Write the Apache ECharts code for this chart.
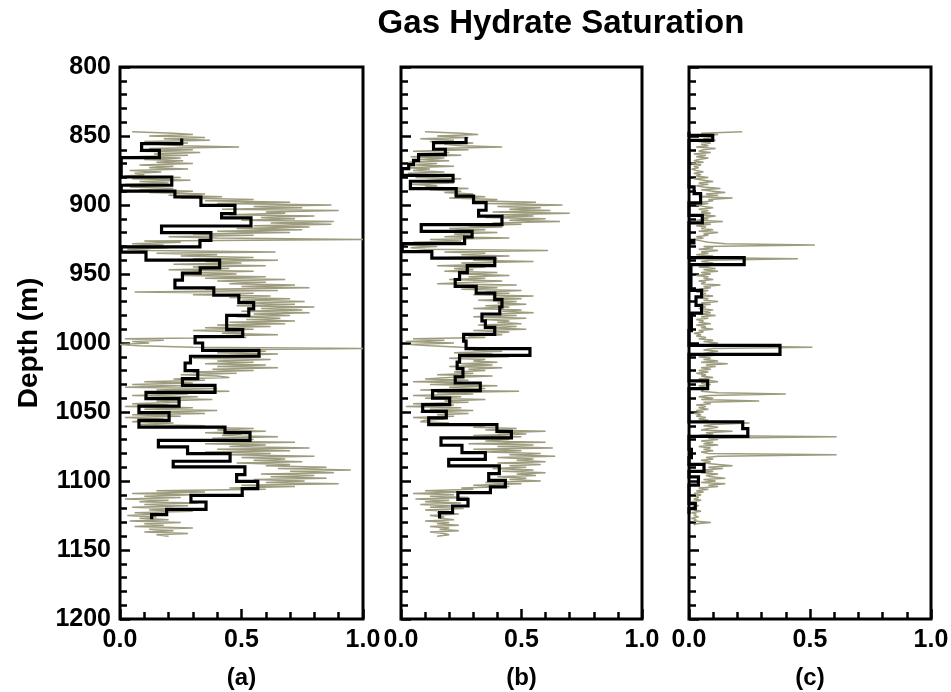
<!DOCTYPE html>
<html>
<head>
<meta charset="utf-8">
<script src="https://cdn.jsdelivr.net/npm/echarts@6/dist/echarts.min.js"></script>
<style>
  html, body { margin: 0; padding: 0; background: #fff; }
  #chart { width: 951px; height: 692px; }
</style>
</head>
<body>
<div id="chart"></div>
<script>
// Log sampling: one reading per metre from the first depth below
const logStartDepth = 847;

// (a) hydrate saturation log
const logA = [
  0.05, 0.22, 0.30, 0.12, 0.35, 0.18, 0.37, 0.10, 0.28, 0.15,
  0.25, 0.49, 0.12, 0.30, 0.08, 0.33, 0.14, 0.28, 0.05, 0.25,
  0.10, 0.26, 0.15, 0.30, 0.08, 0.22, 0.12, 0.28, 0.04, 0.17,
  0.06, 0.10, 0.02, 0.25, 0.05, 0.29, 0.08, 0.20, 0.02, 0.12,
  0.04, 0.22, 0.08, 0.30, 0.12, 0.35, 0.20, 0.42, 0.25, 0.55,
  0.35, 0.70, 0.40, 0.87, 0.55, 0.75, 0.42, 0.90, 0.60, 0.68,
  0.45, 0.80, 0.58, 0.72, 0.50, 0.88, 0.62, 0.87, 0.55, 0.78,
  0.48, 0.75, 0.40, 0.70, 0.30, 0.55, 0.20, 0.40, 1.00, 0.10,
  0.25, 0.05, 0.18, 0.02, 0.20, 0.03, 0.12, 0.64, 0.15, 0.40,
  0.25, 0.55, 0.30, 0.65, 0.35, 0.50, 0.22, 0.60, 0.30, 0.45,
  0.20, 0.55, 0.30, 0.48, 0.25, 0.60, 0.35, 0.68, 0.40, 0.60,
  0.45, 0.72, 0.50, 0.78, 0.35, 0.65, 0.06, 0.55, 0.30, 0.62,
  0.45, 0.70, 0.50, 0.76, 0.55, 0.72, 0.48, 0.80, 0.58, 0.75,
  0.50, 0.78, 0.55, 0.70, 0.48, 0.66, 0.52, 0.72, 0.45, 0.68,
  0.40, 0.62, 0.35, 0.55, 0.30, 0.50, 0.42, 0.65, 0.38, 0.52,
  0.02, 0.18, 0.05, 0.12, 0.00, 0.08, 0.30, 1.00, 0.35, 0.60,
  0.40, 0.65, 0.45, 0.58, 0.30, 0.62, 0.40, 0.55, 0.35, 0.60,
  0.40, 0.65, 0.38, 0.55, 0.30, 0.48, 0.25, 0.40, 0.45, 0.22,
  0.35, 0.10, 0.30, 0.05, 0.25, 0.02, 0.40, 0.15, 0.45, 0.20,
  0.28, 0.05, 0.32, 0.10, 0.38, 0.15, 0.25, 0.05, 0.20, 0.02,
  0.30, 0.10, 0.40, 0.15, 0.35, 0.05, 0.25, 0.02, 0.18, 0.10,
  0.05, 0.22, 0.08, 0.35, 0.30, 0.55, 0.40, 0.60, 0.35, 0.50,
  0.42, 0.65, 0.38, 0.55, 0.30, 0.72, 0.35, 0.60, 0.45, 0.78,
  0.40, 0.70, 0.35, 0.62, 0.45, 0.80, 0.50, 0.68, 0.55, 0.75,
  0.48, 0.70, 0.60, 0.85, 0.65, 0.95, 0.70, 0.88, 0.58, 0.80,
  0.62, 0.85, 0.55, 0.76, 0.60, 0.90, 0.50, 0.72, 0.45, 0.60,
  0.15, 0.35, 0.05, 0.30, 0.10, 0.25, 0.02, 0.20, 0.08, 0.32,
  0.10, 0.28, 0.05, 0.22, 0.12, 0.30, 0.06, 0.18, 0.03, 0.15,
  0.08, 0.20, 0.04, 0.25, 0.10, 0.18, 0.06, 0.30, 0.12, 0.22,
  0.10, 0.28, 0.15, 0.20
];

// (b) hydrate saturation log
const logB = [
  0.10, 0.25, 0.32, 0.15, 0.28, 0.08, 0.22, 0.12, 0.30, 0.18,
  0.25, 0.42, 0.15, 0.28, 0.05, 0.20, 0.10, 0.25, 0.04, 0.18,
  0.08, 0.20, 0.03, 0.15, 0.06, 0.22, 0.02, 0.12, 0.05, 0.18,
  0.03, 0.10, 0.20, 0.06, 0.25, 0.12, 0.08, 0.22, 0.04, 0.15,
  0.10, 0.28, 0.12, 0.25, 0.18, 0.30, 0.22, 0.35, 0.20, 0.40,
  0.30, 0.56, 0.35, 0.67, 0.40, 0.58, 0.45, 0.62, 0.38, 0.70,
  0.42, 0.55, 0.35, 0.60, 0.45, 0.66, 0.38, 0.50, 0.28, 0.42,
  0.20, 0.35, 0.15, 0.40, 0.22, 0.30, 0.18, 0.45, 0.12, 0.25,
  0.05, 0.20, 0.02, 0.15, 0.04, 0.10, 0.61, 0.18, 0.35, 0.25,
  0.45, 0.20, 0.40, 0.30, 0.55, 0.25, 0.38, 0.15, 0.35, 0.22,
  0.30, 0.18, 0.40, 0.25, 0.45, 0.28, 0.35, 0.20, 0.42, 0.30,
  0.15, 0.48, 0.30, 0.40, 0.25, 0.50, 0.35, 0.45, 0.30, 0.55,
  0.38, 0.50, 0.32, 0.48, 0.40, 0.52, 0.35, 0.45, 0.30, 0.50,
  0.42, 0.55, 0.38, 0.48, 0.30, 0.52, 0.35, 0.45, 0.40, 0.50,
  0.32, 0.48, 0.36, 0.52, 0.30, 0.45, 0.38, 0.42, 0.28, 0.35,
  0.05, 0.18, 0.02, 0.22, 0.04, 0.12, 0.25, 0.45, 0.30, 0.42,
  0.22, 0.38, 0.28, 0.45, 0.20, 0.35, 0.30, 0.40, 0.25, 0.38,
  0.20, 0.42, 0.28, 0.35, 0.22, 0.30, 0.15, 0.38, 0.20, 0.10,
  0.28, 0.05, 0.32, 0.12, 0.40, 0.20, 0.35, 0.08, 0.49, 0.15,
  0.30, 0.05, 0.25, 0.10, 0.35, 0.18, 0.28, 0.05, 0.22, 0.02,
  0.25, 0.12, 0.30, 0.08, 0.28, 0.15, 0.22, 0.05, 0.18, 0.10,
  0.08, 0.20, 0.15, 0.35, 0.30, 0.48, 0.35, 0.60, 0.40, 0.52,
  0.30, 0.50, 0.25, 0.45, 0.35, 0.60, 0.28, 0.55, 0.40, 0.63,
  0.30, 0.50, 0.35, 0.58, 0.45, 0.64, 0.40, 0.55, 0.48, 0.60,
  0.40, 0.58, 0.45, 0.52, 0.38, 0.55, 0.42, 0.60, 0.48, 0.56,
  0.40, 0.52, 0.45, 0.58, 0.35, 0.50, 0.30, 0.45, 0.25, 0.30,
  0.10, 0.25, 0.05, 0.22, 0.12, 0.28, 0.06, 0.20, 0.10, 0.25,
  0.08, 0.22, 0.12, 0.26, 0.10, 0.20, 0.15, 0.24, 0.12, 0.18,
  0.16, 0.22, 0.10, 0.20, 0.15, 0.24, 0.12, 0.20, 0.16, 0.24,
  0.12, 0.18, 0.20, 0.15
];

// (c) hydrate saturation log
const logC = [
  0.22, 0.05, 0.12, 0.03, 0.10, 0.06, 0.11, 0.04, 0.09, 0.05,
  0.08, 0.03, 0.11, 0.06, 0.04, 0.09, 0.02, 0.07, 0.03, 0.08,
  0.04, 0.02, 0.06, 0.01, 0.05, 0.02, 0.04, 0.01, 0.03, 0.06,
  0.02, 0.05, 0.03, 0.08, 0.02, 0.06, 0.10, 0.04, 0.08, 0.03,
  0.06, 0.13, 0.05, 0.10, 0.15, 0.07, 0.12, 0.04, 0.18, 0.08,
  0.10, 0.05, 0.08, 0.03, 0.06, 0.10, 0.04, 0.08, 0.05, 0.09,
  0.04, 0.11, 0.06, 0.08, 0.03, 0.14, 0.05, 0.09, 0.03, 0.07,
  0.05, 0.10, 0.04, 0.12, 0.06, 0.08, 0.03, 0.06, 0.02, 0.05,
  0.08, 0.15, 0.52, 0.06, 0.10, 0.04, 0.12, 0.05, 0.08, 0.03,
  0.10, 0.04, 0.45, 0.08, 0.05, 0.10, 0.06, 0.09, 0.04, 0.11,
  0.06, 0.12, 0.05, 0.09, 0.03, 0.08, 0.06, 0.10, 0.04, 0.07,
  0.05, 0.13, 0.06, 0.09, 0.04, 0.08, 0.03, 0.07, 0.05, 0.10,
  0.04, 0.08, 0.06, 0.12, 0.05, 0.09, 0.03, 0.07, 0.04, 0.10,
  0.06, 0.09, 0.04, 0.11, 0.05, 0.08, 0.03, 0.06, 0.04, 0.09,
  0.03, 0.07, 0.05, 0.10, 0.04, 0.06, 0.02, 0.05, 0.03, 0.07,
  0.04, 0.10, 0.06, 0.12, 0.08, 0.15, 0.51, 0.10, 0.06, 0.12,
  0.08, 0.05, 0.10, 0.04, 0.09, 0.06, 0.12, 0.05, 0.16, 0.07,
  0.11, 0.05, 0.09, 0.04, 0.08, 0.03, 0.07, 0.05, 0.10, 0.04,
  0.08, 0.12, 0.05, 0.09, 0.04, 0.07, 0.03, 0.06, 0.05, 0.12,
  0.40, 0.08, 0.04, 0.10, 0.05, 0.29, 0.06, 0.09, 0.03, 0.07,
  0.04, 0.08, 0.03, 0.06, 0.02, 0.05, 0.03, 0.07, 0.04, 0.08,
  0.05, 0.25, 0.10, 0.06, 0.12, 0.08, 0.05, 0.18, 0.07, 0.10,
  0.04, 0.61, 0.08, 0.12, 0.05, 0.10, 0.06, 0.12, 0.04, 0.09,
  0.06, 0.10, 0.05, 0.08, 0.61, 0.12, 0.07, 0.10, 0.05, 0.09,
  0.06, 0.12, 0.18, 0.08, 0.14, 0.06, 0.10, 0.05, 0.12, 0.07,
  0.09, 0.15, 0.06, 0.11, 0.05, 0.15, 0.08, 0.12, 0.04, 0.08,
  0.03, 0.06, 0.02, 0.05, 0.03, 0.04, 0.02, 0.05, 0.01, 0.03,
  0.02, 0.04, 0.01, 0.03, 0.02, 0.05, 0.01, 0.03, 0.02, 0.04,
  0.01, 0.03, 0.02, 0.09, 0.03, 0.02
];

// Interval averages: depth boundaries (m) and the saturation within each interval
const blockDepthsA = [851.9, 855.5, 860.4, 865.7, 879.7, 885.7, 889.9, 894.2, 900.2, 906.2,
  909.4, 915.2, 920, 925.6, 930.4, 934.1, 940, 945.6, 949.3, 954.5, 960, 965.4, 970.7,
  975.3, 980, 990.3, 995.3, 1000, 1005.3, 1009.6, 1014.5, 1020, 1025.8, 1030.7, 1035.8,
  1040.3, 1045.7, 1050.4, 1056, 1060.9, 1064.9, 1070.5, 1075.3, 1080.1, 1085.7, 1089.8,
  1095.4, 1100.2, 1105.5, 1110.4, 1115.2, 1120.5, 1124.3, 1127.7];
const blockValuesA = [0.254, 0.089, 0.162, 0.005, 0.213, 0.005, 0.226, 0.333, 0.473, 0.418,
  0.539, 0.171, 0.374, 0.329, 0.005, 0.107, 0.41, 0.33, 0.257, 0.226, 0.386, 0.489, 0.55,
  0.53, 0.439, 0.505, 0.309, 0.34, 0.572, 0.29, 0.268, 0.32, 0.257, 0.391, 0.107, 0.243,
  0.078, 0.202, 0.078, 0.432, 0.535, 0.158, 0.278, 0.453, 0.219, 0.514, 0.48, 0.567,
  0.503, 0.292, 0.354, 0.192, 0.13];

const blockDepthsB = [850.7, 854.8, 859.6, 863.5, 867.6, 870.8, 873.6, 878.5, 882.8, 888.1,
  893.5, 898.3, 903.8, 908, 914.2, 919.1, 923.2, 928, 933.8, 938.5, 944, 949, 954, 958.9,
  963.8, 968.6, 973.9, 979, 984, 988.7, 993.7, 998.6, 1004.1, 1008.9, 1013.8, 1018.6,
  1024.5, 1029, 1034.5, 1039.9, 1044.6, 1049.5, 1054.3, 1059.1, 1064, 1068.8, 1074.1,
  1079.4, 1084.3, 1089.1, 1094.6, 1099.5, 1104.3, 1108.4, 1113.3, 1118.1, 1122.9, 1127.2];
const blockValuesB = [0.27, 0.135, 0.184, 0.073, 0.052, 0.032, 0.005, 0.216, 0.039, 0.229,
  0.301, 0.353, 0.322, 0.419, 0.084, 0.295, 0.264, 0.005, 0.128, 0.389, 0.275, 0.243,
  0.225, 0.312, 0.389, 0.419, 0.41, 0.336, 0.35, 0.389, 0.26, 0.27, 0.535, 0.243, 0.233,
  0.257, 0.225, 0.329, 0.131, 0.202, 0.09, 0.188, 0.115, 0.398, 0.458, 0.166, 0.253,
  0.35, 0.198, 0.408, 0.364, 0.433, 0.371, 0.236, 0.278, 0.214, 0.16];

const blockDepthsC = [847, 849.5, 853.2, 886.9, 891.7, 898.5, 907.5, 913, 925.6, 927.5,
  938.1, 943.2, 961.8, 966.6, 972.7, 978.3, 991, 1001.7, 1008.2, 1027.5, 1033, 1057.2,
  1062, 1067.6, 1077, 1083, 1088, 1093, 1097, 1103, 1116.4, 1120, 1124];
const blockValuesC = [0, 0.098, 0, 0.021, 0.048, 0, 0.055, 0, 0.02, 0, 0.228, 0.008, 0.052,
  0.029, 0.052, 0.01, 0, 0.376, 0, 0.077, 0, 0.222, 0.243, 0, 0.01, 0, 0.062, 0, 0.039,
  0, 0.026, 0];

// Axis ranges and labels
const depthMin = 800, depthMax = 1200, depthStep = 50;
const satMin = 0, satMax = 1, satStep = 0.5;
const panelNames = ['(a)', '(b)', '(c)'];
const titleText = 'Gas Hydrate Saturation';
const depthLabel = 'Depth (m)';

const FONT = '"Liberation Sans", Arial, Helvetica, sans-serif';
const LOG_COLOR = '#9e9c7e';

function logPoints(values) {
  return values.map((v, i) => [v, logStartDepth + i]);
}

// Corner points of a staircase: each interval is a vertical run at its value
function stepPoints(bounds, values) {
  const pts = [];
  for (let i = 0; i < values.length; i++) {
    pts.push([values[i], bounds[i]]);
    pts.push([values[i], bounds[i + 1]]);
  }
  return pts;
}

const panels = [
  { left: 120, width: 243, log: logA, bounds: blockDepthsA, blocks: blockValuesA },
  { left: 401, width: 241, log: logB, bounds: blockDepthsB, blocks: blockValuesB },
  { left: 689, width: 242, log: logC, bounds: blockDepthsC, blocks: blockValuesC }
];

const tickStyle = { color: '#000', width: 2.5 };

const option = {
  animation: false,
  backgroundColor: '#fff',
  title: {
    text: titleText,
    left: 556,
    top: 2,
    textAlign: 'center',
    textStyle: { fontFamily: FONT, fontSize: 33, fontWeight: 'bold', color: '#000' }
  },
  grid: panels.map(p => ({
    left: p.left, top: 67, width: p.width, height: 552,
    show: true, borderColor: '#000', borderWidth: 3, backgroundColor: 'transparent',
    containLabel: false, outerBoundsMode: 'none'
  })),
  xAxis: panels.map((p, i) => ({
    type: 'value', gridIndex: i,
    min: satMin, max: satMax, interval: satStep,
    axisLine: { show: false },
    axisTick: { show: true, inside: true, length: 10, lineStyle: tickStyle },
    minorTick: { show: true, splitNumber: 5, length: 7, lineStyle: tickStyle },
    splitLine: { show: false },
    axisLabel: {
      show: true, margin: 9, showMinLabel: true, showMaxLabel: true,
      formatter: v => v.toFixed(1),
      fontFamily: FONT, fontSize: 25, fontWeight: 'bold', color: '#000'
    },
    name: panelNames[i], nameLocation: 'middle', nameGap: 47,
    nameTextStyle: { fontFamily: FONT, fontSize: 24, fontWeight: 'bold', color: '#000' }
  })),
  yAxis: panels.map((p, i) => ({
    type: 'value', gridIndex: i, inverse: true,
    min: depthMin, max: depthMax, interval: depthStep,
    axisLine: { show: false },
    axisTick: { show: true, inside: true, length: 10, lineStyle: tickStyle },
    minorTick: { show: true, splitNumber: 5, length: 7, lineStyle: tickStyle },
    splitLine: { show: false },
    axisLabel: {
      show: i === 0, margin: 9, showMinLabel: true, showMaxLabel: true,
      formatter: v => String(v),
      fontFamily: FONT, fontSize: 25, fontWeight: 'bold', color: '#000'
    },
    name: i === 0 ? depthLabel : '', nameLocation: 'middle', nameGap: 77, nameRotate: 90,
    nameTextStyle: { fontFamily: FONT, fontSize: 28, fontWeight: 'bold', color: '#000' }
  })),
  series: []
};

panels.forEach((p, i) => {
  option.series.push({
    type: 'line', xAxisIndex: i, yAxisIndex: i,
    data: logPoints(p.log),
    symbol: 'none', silent: true,
    lineStyle: { color: LOG_COLOR, width: 1.5 }
  });
  option.series.push({
    type: 'line', xAxisIndex: i, yAxisIndex: i,
    data: stepPoints(p.bounds, p.blocks),
    symbol: 'none', silent: true,
    lineStyle: { color: '#000', width: 3.2, join: 'miter' }
  });
});

const chart = echarts.init(document.getElementById('chart'), null, { renderer: 'canvas' });
chart.setOption(option);
</script>
</body>
</html>
